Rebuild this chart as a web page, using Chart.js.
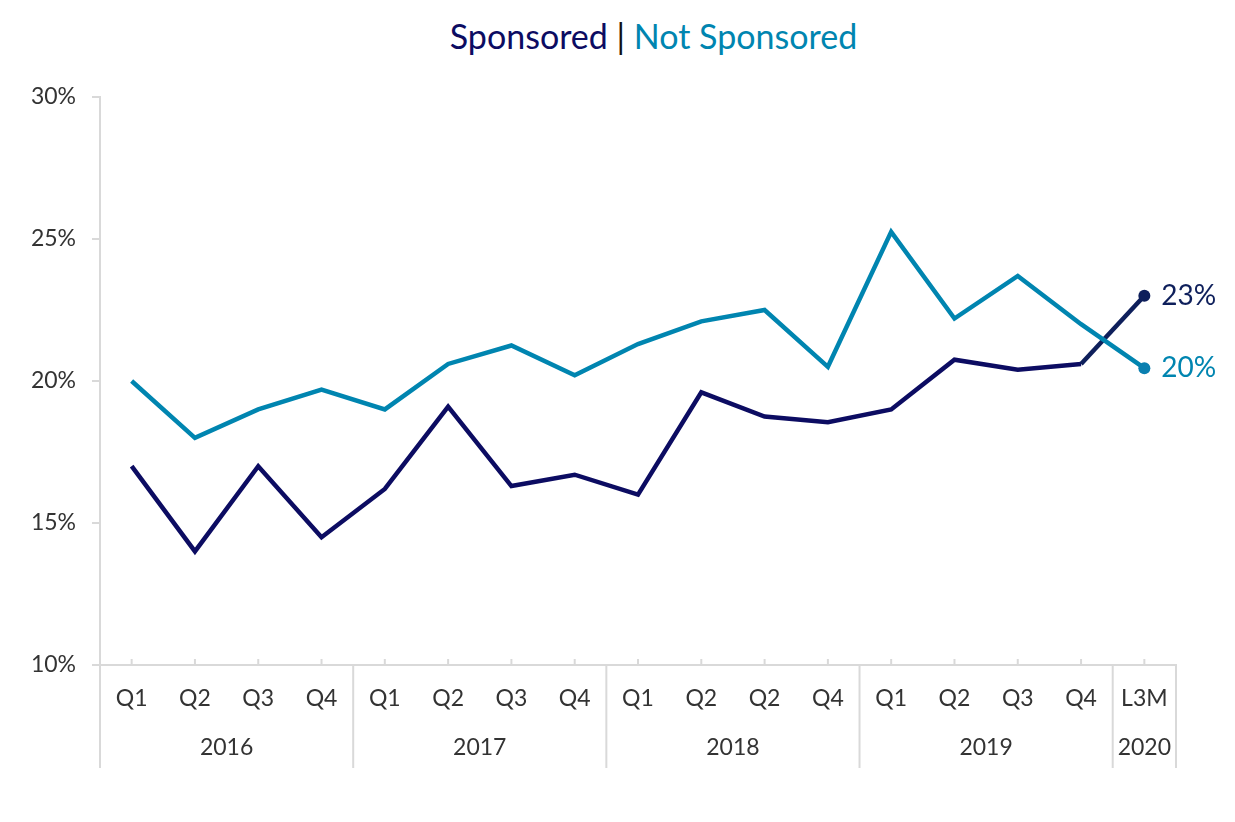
<!DOCTYPE html>
<html>
<head>
<meta charset="utf-8">
<script src="https://cdn.jsdelivr.net/npm/chart.js@4"></script>
<style>
  body { margin: 0; background: #fff; }
  #wrap { position: relative; width: 1235px; height: 822px; }
  #title { position: absolute; top: 15px; left: 72px; width: 1163px; text-align: center;
           font-family: Lato, sans-serif; font-size: 34px; }
  canvas { position: absolute; top: 0; left: 0; }
</style>
</head>
<body>
<div id="wrap">
  <div id="title"><span style="color:#0c0c62">Sponsored</span> <span style="color:#111">|</span> <span style="color:#0085b0">Not Sponsored</span></div>
  <canvas id="chart" width="1235" height="822"></canvas>
</div>
<script>
const quarters = ['Q1', 'Q2', 'Q3', 'Q4', 'Q1', 'Q2', 'Q3', 'Q4', 'Q1', 'Q2', 'Q2', 'Q4', 'Q1', 'Q2', 'Q3', 'Q4', 'L3M']
const years = ['2016', '2017', '2018', '2019', '2020']
const yearSizes = [4, 4, 4, 4, 1]
const sponsored = [17.0, 14.0, 17.0, 14.5, 16.2, 19.1, 16.3, 16.7, 16.0, 19.6, 18.75, 18.55, 19.0, 20.75, 20.4, 20.6, 23.0]
const notSponsored = [20.0, 18.0, 19.0, 19.7, 19.0, 20.6, 21.25, 20.2, 21.3, 22.1, 22.5, 20.5, 25.25, 22.2, 23.7, 22.0, 20.45]
const yTicks = [10, 15, 20, 25, 30]

const navy = '#0c0c62'
const teal = '#0085b0'
const axisGrey = '#d9d9d9'
const textGrey = '#333333'
const lastIdx = quarters.length - 1

// axis extras: little upward ticks, year separators, year labels, end labels
const extras = {
  id: 'extras',
  afterDraw(chart) {
    const ctx = chart.ctx
    const x = chart.scales.x
    const y = chart.scales.y
    const area = chart.chartArea
    const step = x.getPixelForValue(1) - x.getPixelForValue(0)
    ctx.save()
    ctx.strokeStyle = axisGrey
    ctx.lineWidth = 2
    quarters.forEach((q, i) => {
      const px = x.getPixelForValue(i)
      ctx.beginPath()
      ctx.moveTo(px, area.bottom - 6)
      ctx.lineTo(px, area.bottom)
      ctx.stroke()
    })
    let start = 0
    const edges = [0]
    yearSizes.forEach(n => { start += n; edges.push(start) })
    edges.forEach(e => {
      const px = area.left + e * step
      ctx.beginPath()
      ctx.moveTo(px, area.bottom)
      ctx.lineTo(px, area.bottom + 103)
      ctx.stroke()
    })
    ctx.fillStyle = textGrey
    ctx.font = '23px Lato, sans-serif'
    ctx.textAlign = 'center'
    ctx.textBaseline = 'middle'
    years.forEach((yr, i) => {
      const mid = area.left + (edges[i] + edges[i + 1]) / 2 * step
      ctx.fillText(yr, mid, area.bottom + 83)
    })
    ctx.font = '28px Lato, sans-serif'
    ctx.textAlign = 'left'
    const lx = x.getPixelForValue(lastIdx) + 17
    ctx.fillStyle = '#0e1f5b'
    ctx.fillText(Math.round(sponsored[lastIdx]) + '%', lx, y.getPixelForValue(sponsored[lastIdx]))
    ctx.fillStyle = teal
    ctx.fillText(Math.round(notSponsored[lastIdx]) + '%', lx, y.getPixelForValue(notSponsored[lastIdx]))
    ctx.restore()
  }
}

const endPoint = ctx => ctx.dataIndex === lastIdx ? 6 : 0

new Chart(document.getElementById('chart'), {
  type: 'line',
  data: {
    labels: quarters,
    datasets: [
      {
        label: 'Not Sponsored',
        data: notSponsored,
        borderColor: teal,
        backgroundColor: '#0a7fb0',
        borderWidth: 4.5,
        pointRadius: endPoint,
        pointBorderWidth: 0,
        tension: 0
      },
      {
        label: 'Sponsored',
        data: sponsored,
        borderColor: navy,
        backgroundColor: '#0e1f5b',
        borderWidth: 4.5,
        pointRadius: endPoint,
        pointBorderWidth: 0,
        tension: 0,
        segment: {
          borderColor: c => c.p1DataIndex === lastIdx ? '#0e1f5b' : navy
        }
      }
    ]
  },
  options: {
    responsive: false,
    animation: false,
    layout: { padding: { top: 97, right: 59, left: 0, bottom: 0 } },
    plugins: {
      legend: { display: false },
      tooltip: { enabled: false }
    },
    scales: {
      x: {
        offset: true,
        grid: { display: false },
        border: { color: axisGrey, width: 2 },
        ticks: {
          color: textGrey,
          font: { family: 'Lato', size: 23 },
          padding: 12,
          maxRotation: 0,
          autoSkip: false
        },
        afterFit: s => { s.height = 157 }
      },
      y: {
        min: 10,
        max: 30,
        afterBuildTicks: s => { s.ticks = yTicks.map(v => ({ value: v })) },
        grid: { drawOnChartArea: false, color: axisGrey, tickLength: 8, lineWidth: 2 },
        border: { color: axisGrey, width: 2 },
        ticks: {
          color: textGrey,
          font: { family: 'Lato', size: 23 },
          padding: 16,
          callback: v => v + '%'
        },
        afterFit: s => { s.width = 100 }
      }
    }
  },
  plugins: [extras]
})
</script>
</body>
</html>
